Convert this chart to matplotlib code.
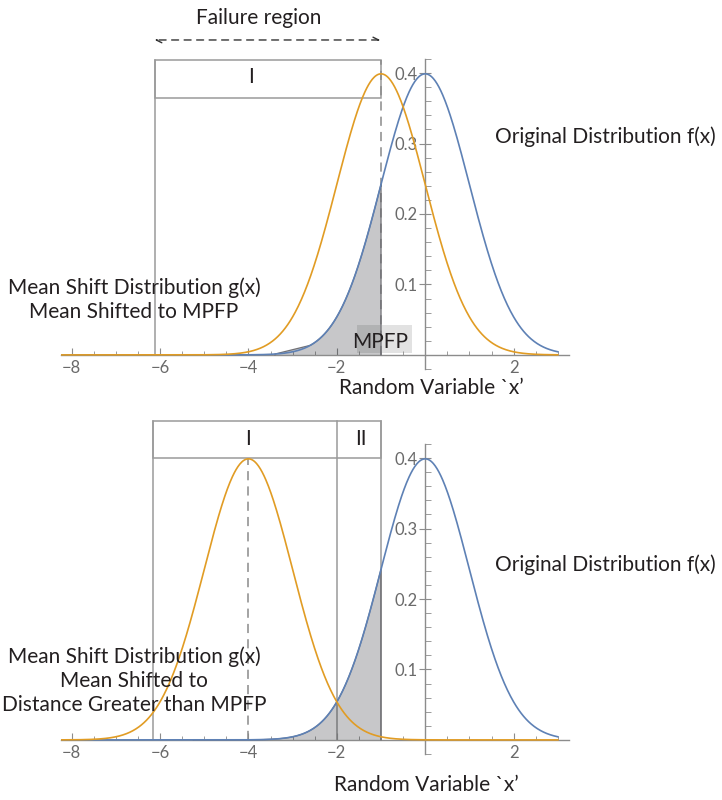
import numpy as np
import matplotlib.pyplot as plt
from matplotlib.patches import Rectangle

# normal densities: original f(x) and the two shifted sampling densities g(x)
f_mean, f_sd = 0.0, 1.0
g_means = [-1.0, -4.0]
g_sd = 1.0

# failure region / box edges and the limit-state point
box_left = [-6.12, -6.15]
mpfp = -1.0
split_II = -2.0
shade_start = [-3.4, -5.25]

box_y = [(0.365, 0.418), (0.400, 0.453)]
xticks = [-8, -6, -4, -2, 2]
yticks = [0.1, 0.2, 0.3, 0.4]

left_text = ["Mean Shift Distribution g(x)\nMean Shifted to MPFP",
             "Mean Shift Distribution g(x)\nMean Shifted to\nDistance Greater than MPFP"]

BLUE = '#5E81B5'
ORANGE = '#E19C24'
EDGE = '#9a9a9a'
TXT = '#231F20'
FS = 15

plt.rcParams['font.family'] = ['Lato', 'DejaVu Sans']


def pdf(x, m, s):
    return np.exp(-0.5 * ((x - m) / s) ** 2) / (s * np.sqrt(2 * np.pi))


def setup_axes(ax):
    ax.set_xlim(-8.25, 3.25)
    ax.set_ylim(-0.02, 0.42)
    for side in ['top', 'right']:
        ax.spines[side].set_visible(False)
    ax.spines['bottom'].set_position(('data', 0))
    ax.spines['left'].set_position(('data', 0))
    for side in ['bottom', 'left']:
        ax.spines[side].set_color('#8c8c8c')
        ax.spines[side].set_linewidth(1.0)
    ax.set_xticks(xticks)
    ax.set_xticklabels(['\u2212%d' % -t if t < 0 else '%d' % t for t in xticks])
    ax.set_xticks([v for v in np.arange(-8, 3.01, 0.5) if v not in xticks and v != 0], minor=True)
    ax.set_yticks(yticks)
    ax.set_yticklabels(['%.1f' % t for t in yticks])
    ax.set_yticks([v for v in np.round(np.arange(-0.02, 0.421, 0.02), 2)
                   if abs(v * 10 - round(v * 10)) > 1e-6], minor=True)
    ax.tick_params(axis='x', which='major', direction='in', length=5, width=0.8,
                   color='#8c8c8c', labelcolor='#6a6a6a', labelsize=12, pad=4)
    ax.tick_params(axis='x', which='minor', direction='in', length=3, width=0.6, color='#8c8c8c')
    ax.tick_params(axis='y', which='major', direction='inout', length=9, width=0.8,
                   color='#8c8c8c', labelcolor='#6a6a6a', labelsize=12, pad=1)
    ax.tick_params(axis='y', which='minor', direction='in', length=4, width=0.6, color='#8c8c8c')
    ax.patch.set_alpha(0)


fig = plt.figure(figsize=(7.22, 8), dpi=100)
ax_top = fig.add_axes([0.0839, 0.53875, 0.704, 0.3875])
ax_bot = fig.add_axes([0.0839, 0.0575, 0.704, 0.3875])

x = np.linspace(-8.25, 3.0, 800)

for i, ax in enumerate([ax_top, ax_bot]):
    setup_axes(ax)
    gm = g_means[i]
    y0, y1 = box_y[i]

    # shaded part of f(x) inside the failure region
    if i == 0:
        xs = np.concatenate([[shade_start[i]], np.linspace(-2.6, mpfp, 60)])
    else:
        xs = np.linspace(shade_start[i], mpfp, 120)
    ys = pdf(xs, f_mean, f_sd)
    px = np.concatenate([[xs[0]], xs, [mpfp]])
    py = np.concatenate([[0], ys, [0]])
    ax.fill(px, py, facecolor='#20232a', alpha=0.25, edgecolor='none', zorder=3)
    ax.plot(px, py, color='#707075', lw=0.9, zorder=3)

    # curves
    ax.plot(x, pdf(x, f_mean, f_sd), color=BLUE, lw=1.2, zorder=4)
    ax.plot(x, pdf(x, gm, g_sd), color=ORANGE, lw=1.2, zorder=5)

    # failure-region box
    ax.add_patch(Rectangle((box_left[i], y0), mpfp - box_left[i], y1 - y0, fill=False,
                           edgecolor=EDGE, lw=1.1, clip_on=False, zorder=2))
    ax.plot([box_left[i], box_left[i]], [0, y1], color=EDGE, lw=1.1, clip_on=False, zorder=2)

    if i == 0:
        ax.plot([mpfp, mpfp], [0, y1], color='#8a8a8a', lw=1.1, ls=(0, (6, 4)), zorder=2)
        ax.text(-3.95, (y0 + y1) / 2 + 0.003, 'I', ha='center', va='center',
                fontsize=FS, color=TXT)
        ax.add_patch(Rectangle((-1.545, 0.003), 1.245, 0.0395, facecolor='#e2e2e2',
                               edgecolor='none', zorder=1))
        ax.text(-1.02, 0.019, 'MPFP', ha='center', va='center', fontsize=FS,
                color=TXT, zorder=6)
        # failure region arrow
        ax.annotate('', xy=(-6.12, 0.447), xytext=(-1.02, 0.447),
                    arrowprops=dict(arrowstyle='<->', ls=(0, (5, 4)), color='#333333',
                                    lw=1.0, shrinkA=0, shrinkB=0), annotation_clip=False)
        fig.text(258.5 / 722, 1 - 18 / 800, 'Failure region', ha='center', va='center',
                 fontsize=FS, color=TXT)
        fig.text(431 / 722, 1 - 388 / 800, 'Random Variable `x\u2019', ha='center',
                 va='center', fontsize=FS, color=TXT)
        fig.text(605 / 722, 1 - 137 / 800, 'Original Distribution f(x)', ha='center',
                 va='center', fontsize=FS, color=TXT)
    else:
        ax.plot([split_II, split_II], [0, y1], color=EDGE, lw=1.1, clip_on=False, zorder=2)
        ax.plot([mpfp, mpfp], [0, y1], color=EDGE, lw=1.1, clip_on=False, zorder=2)
        ax.plot([gm, gm], [0, y0], color='#8a8a8a', lw=1.1, ls=(0, (6, 4)), zorder=2)
        ax.text(-4.0, (y0 + y1) / 2, 'I', ha='center', va='center', fontsize=FS,
                color=TXT, clip_on=False)
        ax.text(-1.45, (y0 + y1) / 2, 'II', ha='center', va='center', fontsize=FS,
                color=TXT, clip_on=False)
        fig.text(426 / 722, 1 - 785 / 800, 'Random Variable `x\u2019', ha='center',
                 va='center', fontsize=FS, color=TXT)
        fig.text(605 / 722, 1 - 565 / 800, 'Original Distribution f(x)', ha='center',
                 va='center', fontsize=FS, color=TXT)

fig.text(134 / 722, 1 - 300 / 800, left_text[0], ha='center', va='center',
         fontsize=FS, color=TXT, linespacing=1.25)
fig.text(134 / 722, 1 - 681 / 800, left_text[1], ha='center', va='center',
         fontsize=FS, color=TXT, linespacing=1.25)

fig.savefig('out.png', dpi=100)
